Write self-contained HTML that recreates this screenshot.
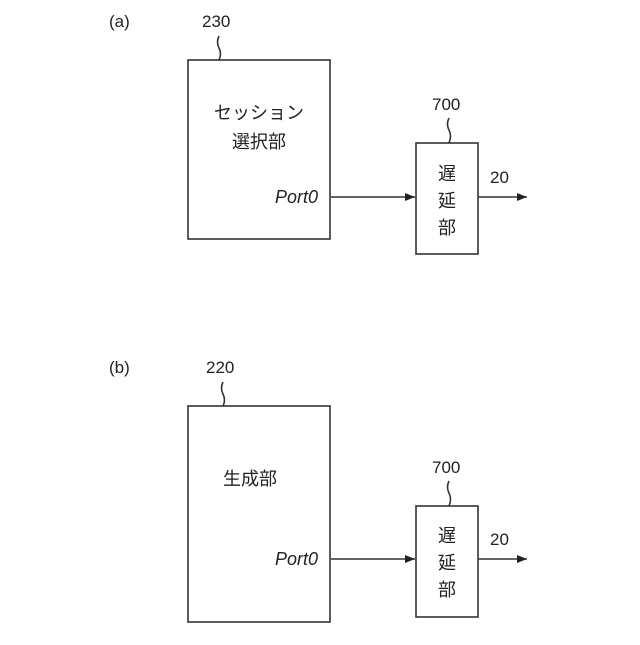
<!DOCTYPE html>
<html><head><meta charset="utf-8"><style>
body{margin:0;background:#fff}
svg text{font-family:"Liberation Sans","Noto Sans CJK JP",sans-serif;fill:#222}
</style></head><body>
<svg width="640" height="640" viewBox="0 0 640 640" xmlns="http://www.w3.org/2000/svg">
<defs><marker id="ar" markerWidth="10" markerHeight="8" refX="10" refY="4" orient="auto" markerUnits="userSpaceOnUse"><path d="M0,0 L10,4 L0,8 z" fill="#222"/></marker></defs>
<g stroke="#333" stroke-width="1.6" fill="none">
<rect x="188" y="60" width="142" height="179"/>
<rect x="416" y="143" width="62" height="111"/>
<line x1="331" y1="197" x2="415" y2="197" marker-end="url(#ar)"/>
<line x1="478" y1="197" x2="527" y2="197" marker-end="url(#ar)"/>
<path d="M219,36 q-3,6 0,12 q3,6 0,12"/>
<path d="M449,118 q-3,6 0,12 q3,6 0,13"/>
<rect x="188" y="406" width="142" height="216"/>
<rect x="416" y="506" width="62" height="111"/>
<line x1="331" y1="559" x2="415" y2="559" marker-end="url(#ar)"/>
<line x1="478" y1="559" x2="527" y2="559" marker-end="url(#ar)"/>
<path d="M223,382 q-3,6 0,12 q3,6 0,12"/>
<path d="M449,481 q-3,6 0,12 q3,6 0,13"/>
</g>
<g font-size="17">
<text x="109" y="27">(a)</text>
<text x="202" y="27">230</text>
<text x="432" y="110">700</text>
<text x="490" y="183">20</text>
<text x="109" y="373">(b)</text>
<text x="206" y="373">220</text>
<text x="432" y="473">700</text>
<text x="490" y="545">20</text>
</g>
<g font-size="18">
<text x="259" y="119" text-anchor="middle">セッション</text>
<text x="259" y="148" text-anchor="middle">選択部</text>
<text x="318" y="203" text-anchor="end" font-style="italic">Port0</text>
<text x="447" y="180" text-anchor="middle">遅</text>
<text x="447" y="207" text-anchor="middle">延</text>
<text x="447" y="234" text-anchor="middle">部</text>
<text x="250" y="485" text-anchor="middle">生成部</text>
<text x="318" y="565" text-anchor="end" font-style="italic">Port0</text>
<text x="447" y="542" text-anchor="middle">遅</text>
<text x="447" y="569" text-anchor="middle">延</text>
<text x="447" y="596" text-anchor="middle">部</text>
</g>
</svg>
</body></html>
